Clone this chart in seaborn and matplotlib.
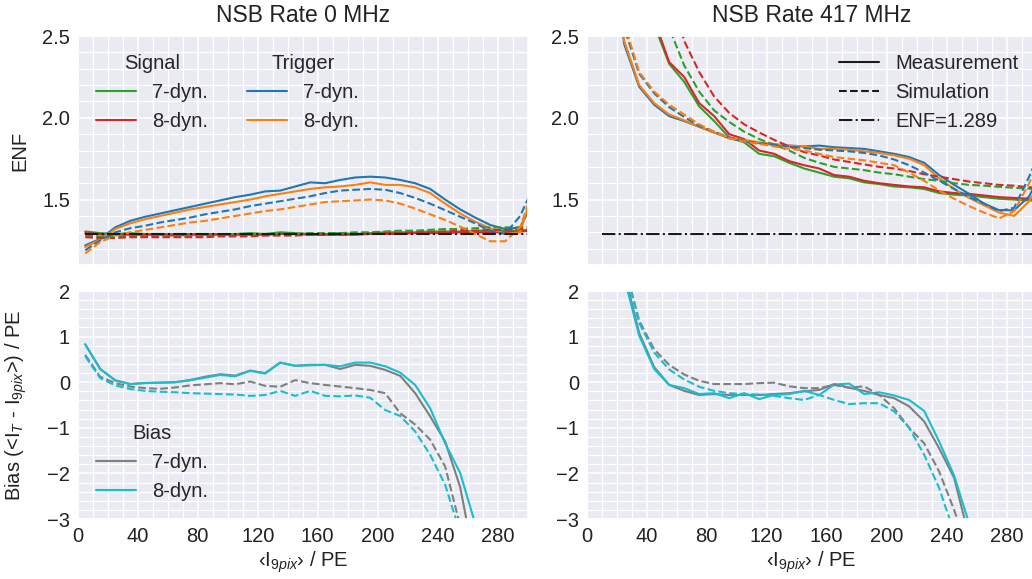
import numpy as np
import pandas as pd
import seaborn as sns
import matplotlib.pyplot as plt
from matplotlib.lines import Line2D
from matplotlib.ticker import MultipleLocator

sns.set_theme(style="darkgrid")
plt.rcParams["font.family"] = ["Liberation Sans", "DejaVu Sans"]
plt.rcParams["mathtext.fontset"] = "custom"
plt.rcParams["mathtext.rm"] = "Liberation Sans"
plt.rcParams["mathtext.it"] = "Liberation Sans:italic"
plt.rcParams["mathtext.bf"] = "Liberation Sans:bold"

# bin centres in PE
x_pe = list(range(5, 306, 10))

# ---- ENF, NSB 0 MHz ----
sig7_meas_0 = [1.305, 1.295, 1.29, 1.295, 1.29, 1.29, 1.29, 1.29, 1.29, 1.29, 1.29, 1.295, 1.29, 1.30, 1.295, 1.29,
               1.29, 1.295, 1.29, 1.295, 1.30, 1.30, 1.30, 1.305, 1.305, 1.305, 1.31, 1.31, 1.31, 1.31, 1.32]
sig8_meas_0 = [1.295, 1.29, 1.285, 1.285, 1.285, 1.285, 1.28, 1.285, 1.285, 1.285, 1.285, 1.285, 1.285, 1.29, 1.29,
               1.285, 1.285, 1.285, 1.285, 1.29, 1.29, 1.29, 1.295, 1.295, 1.295, 1.30, 1.30, 1.30, 1.30, 1.305, 1.31]
trg7_meas_0 = [1.22, 1.26, 1.33, 1.37, 1.395, 1.415, 1.435, 1.455, 1.475, 1.495, 1.515, 1.53, 1.55, 1.555, 1.58, 1.605,
               1.60, 1.62, 1.635, 1.64, 1.635, 1.62, 1.60, 1.565, 1.50, 1.44, 1.39, 1.345, 1.32, 1.33, 1.51]
trg8_meas_0 = [1.21, 1.255, 1.32, 1.355, 1.38, 1.40, 1.42, 1.44, 1.455, 1.47, 1.485, 1.50, 1.52, 1.535, 1.55, 1.565,
               1.575, 1.58, 1.59, 1.605, 1.59, 1.59, 1.575, 1.54, 1.475, 1.415, 1.365, 1.325, 1.29, 1.30, 1.60]
sig7_sim_0 = [1.28, 1.275, 1.275, 1.275, 1.275, 1.28, 1.28, 1.28, 1.28, 1.285, 1.285, 1.285, 1.29, 1.29, 1.29, 1.295,
              1.295, 1.295, 1.30, 1.30, 1.305, 1.31, 1.31, 1.315, 1.32, 1.32, 1.325, 1.33, 1.33, 1.33, 1.335]
sig8_sim_0 = [1.27, 1.265, 1.265, 1.27, 1.27, 1.27, 1.27, 1.27, 1.27, 1.275, 1.275, 1.275, 1.28, 1.28, 1.28, 1.285,
              1.285, 1.285, 1.29, 1.29, 1.295, 1.295, 1.30, 1.30, 1.305, 1.31, 1.31, 1.315, 1.315, 1.32, 1.32]
trg7_sim_0 = [1.19, 1.25, 1.30, 1.325, 1.34, 1.36, 1.375, 1.39, 1.41, 1.425, 1.44, 1.46, 1.475, 1.49, 1.505, 1.52,
              1.54, 1.555, 1.56, 1.565, 1.56, 1.54, 1.51, 1.475, 1.435, 1.395, 1.355, 1.31, 1.29, 1.40, 1.60]
trg8_sim_0 = [1.17, 1.24, 1.28, 1.30, 1.315, 1.33, 1.345, 1.36, 1.37, 1.385, 1.40, 1.415, 1.43, 1.44, 1.455, 1.47,
              1.485, 1.49, 1.495, 1.50, 1.495, 1.475, 1.445, 1.41, 1.375, 1.335, 1.29, 1.245, 1.245, 1.33, 1.60]

# ---- ENF, NSB 417 MHz ----
sig7_meas_417 = [5.0, 4.2, 3.6, 3.1, 2.57, 2.33, 2.22, 2.07, 1.98, 1.88, 1.85, 1.78, 1.765, 1.725, 1.69, 1.665,
                 1.64, 1.63, 1.605, 1.595, 1.58, 1.575, 1.565, 1.54, 1.53, 1.525, 1.515, 1.505, 1.50, 1.495, 1.49]
sig8_meas_417 = [5.0, 4.3, 3.7, 3.2, 2.6, 2.34, 2.25, 2.09, 2.01, 1.90, 1.87, 1.80, 1.78, 1.735, 1.71, 1.69,
                 1.65, 1.64, 1.615, 1.60, 1.59, 1.58, 1.575, 1.55, 1.54, 1.535, 1.525, 1.515, 1.51, 1.505, 1.50]
trg7_meas_417 = [4.5, 3.2, 2.45, 2.19, 2.08, 2.01, 1.98, 1.945, 1.91, 1.875, 1.855, 1.845, 1.835, 1.83, 1.825, 1.83,
                 1.82, 1.815, 1.81, 1.795, 1.78, 1.76, 1.725, 1.65, 1.59, 1.535, 1.475, 1.435, 1.435, 1.52, 1.70]
trg8_meas_417 = [4.5, 3.2, 2.47, 2.20, 2.09, 2.02, 1.985, 1.945, 1.91, 1.88, 1.865, 1.85, 1.84, 1.83, 1.825, 1.81,
                 1.81, 1.805, 1.795, 1.785, 1.77, 1.75, 1.71, 1.63, 1.565, 1.51, 1.465, 1.42, 1.40, 1.49, 1.65]
sig7_sim_417 = [5.5, 4.6, 3.9, 3.4, 2.9, 2.55, 2.32, 2.16, 2.045, 1.975, 1.915, 1.87, 1.835, 1.80, 1.755, 1.725,
                1.70, 1.69, 1.68, 1.665, 1.655, 1.64, 1.625, 1.615, 1.60, 1.59, 1.585, 1.578, 1.572, 1.567, 1.56]
sig8_sim_417 = [6.0, 5.0, 4.3, 3.8, 3.3, 2.8, 2.47, 2.28, 2.13, 2.03, 1.96, 1.91, 1.865, 1.825, 1.79, 1.77,
                1.745, 1.73, 1.715, 1.70, 1.69, 1.675, 1.655, 1.64, 1.625, 1.61, 1.60, 1.59, 1.585, 1.575, 1.57]
trg7_sim_417 = [4.5, 3.3, 2.55, 2.27, 2.15, 2.065, 2.005, 1.95, 1.915, 1.88, 1.86, 1.845, 1.835, 1.825, 1.815, 1.805,
                1.80, 1.795, 1.785, 1.77, 1.745, 1.71, 1.665, 1.615, 1.565, 1.515, 1.475, 1.43, 1.45, 1.64, 1.85]
trg8_sim_417 = [4.5, 3.3, 2.58, 2.28, 2.16, 2.08, 2.02, 1.96, 1.915, 1.875, 1.855, 1.84, 1.825, 1.81, 1.80, 1.78,
                1.76, 1.75, 1.74, 1.725, 1.71, 1.665, 1.615, 1.555, 1.505, 1.46, 1.42, 1.385, 1.43, 1.60, 1.80]

# ---- Bias, NSB 0 MHz ----
bias7_meas_0 = [0.83, 0.29, 0.04, -0.04, -0.015, -0.01, 0.0, 0.05, 0.12, 0.175, 0.145, 0.255, 0.20, 0.43, 0.36, 0.38,
                0.38, 0.29, 0.38, 0.36, 0.27, 0.14, -0.24, -0.75, -1.30, -2.3, -4.0, -5.5, -7.0, -8.5, -10.0]
bias8_meas_0 = [0.83, 0.29, 0.04, -0.04, -0.02, -0.01, 0.0, 0.04, 0.10, 0.16, 0.13, 0.25, 0.19, 0.43, 0.36, 0.37,
                0.38, 0.35, 0.43, 0.43, 0.35, 0.21, -0.06, -0.57, -1.34, -1.99, -3.1, -4.5, -6.0, -7.5, -9.0]
bias7_sim_0 = [0.60, 0.12, -0.02, -0.095, -0.13, -0.145, -0.115, -0.07, -0.045, -0.02, -0.045, 0.015, -0.08, -0.10,
               0.045, -0.02, -0.06, -0.095, -0.13, -0.17, -0.24, -0.68, -0.93, -1.26, -1.85, -3.15, -4.5, -6.0, -7.5,
               -9.0, -10.5]
bias8_sim_0 = [0.57, 0.09, -0.07, -0.15, -0.19, -0.21, -0.22, -0.24, -0.25, -0.26, -0.27, -0.30, -0.28, -0.19, -0.30,
               -0.19, -0.30, -0.31, -0.29, -0.34, -0.61, -0.74, -1.08, -1.59, -2.25, -3.3, -4.5, -6.0, -7.5, -9.0, -10.5]

# ---- Bias, NSB 417 MHz ----
bias7_meas_417 = [8.0, 5.0, 2.41, 1.08, 0.33, -0.06, -0.19, -0.28, -0.26, -0.28, -0.28, -0.28, -0.26, -0.24, -0.20,
                  -0.17, -0.04, -0.12, -0.19, -0.28, -0.35, -0.53, -0.86, -1.45, -2.1, -3.4, -5.0, -6.5, -8.0, -9.5, -11.0]
bias8_meas_417 = [8.0, 5.0, 2.3, 1.02, 0.29, -0.06, -0.13, -0.26, -0.24, -0.35, -0.24, -0.37, -0.28, -0.26, -0.19,
                  -0.28, -0.05, -0.03, -0.26, -0.22, -0.29, -0.39, -0.63, -1.3, -2.05, -3.1, -4.5, -6.0, -7.5, -9.0, -10.5]
bias7_sim_417 = [8.0, 5.0, 2.6, 1.35, 0.72, 0.38, 0.17, 0.03, -0.04, -0.04, -0.04, -0.02, -0.01, -0.09, -0.13, -0.13,
                 -0.06, -0.12, -0.09, -0.28, -0.57, -1.0, -1.34, -1.96, -2.8, -3.8, -5.0, -6.5, -8.0, -9.5, -11.0]
bias8_sim_417 = [8.0, 5.0, 2.55, 1.30, 0.65, 0.28, 0.06, -0.10, -0.19, -0.24, -0.26, -0.27, -0.30, -0.35, -0.39, -0.28,
                 -0.39, -0.48, -0.46, -0.46, -0.64, -1.0, -1.59, -2.32, -3.3, -4.5, -6.0, -7.5, -9.0, -10.5, -12.0]

enf_ref = 1.289
enf_x_0 = [5, 305]
enf_x_417 = [10, 305]

c_sig7, c_sig8 = "#2ca02c", "#d62728"
c_trg7, c_trg8 = "#1f77b4", "#ff7f0e"
c_b7, c_b8 = "#7f7f7f", "#17becf"
LW = 1.5
FS = 14.5

fig = plt.figure(figsize=(10.32, 5.79), dpi=100)
ax_tl = fig.add_axes([0.0753, 0.5423, 0.4360, 0.3955])
ax_tr = fig.add_axes([0.5685, 0.5423, 0.4360, 0.3955])
ax_bl = fig.add_axes([0.0753, 0.1036, 0.4360, 0.3938])
ax_br = fig.add_axes([0.5685, 0.1036, 0.4360, 0.3938])


def draw(ax, y, color, ls):
    sns.lineplot(x=x_pe, y=y, ax=ax, color=color, linestyle=ls, lw=LW,
                 errorbar=None, legend=False)


# ENF panels
for ax, data, ex in [
    (ax_tl, [sig7_meas_0, sig8_meas_0, trg7_meas_0, trg8_meas_0,
             sig7_sim_0, sig8_sim_0, trg7_sim_0, trg8_sim_0], enf_x_0),
    (ax_tr, [sig7_meas_417, sig8_meas_417, trg7_meas_417, trg8_meas_417,
             sig7_sim_417, sig8_sim_417, trg7_sim_417, trg8_sim_417], enf_x_417),
]:
    cols = [c_sig7, c_sig8, c_trg7, c_trg8] * 2
    styles = ["-"] * 4 + ["--"] * 4
    for y, c, ls in zip(data, cols, styles):
        draw(ax, y, c, ls)
    sns.lineplot(x=ex, y=[enf_ref, enf_ref], ax=ax, color="k", linestyle="-.",
                 lw=LW, errorbar=None, legend=False)
    ax.set_ylim(1.1, 2.5)
    ax.yaxis.set_major_locator(MultipleLocator(0.5))
    ax.yaxis.set_minor_locator(MultipleLocator(0.1))
    ax.yaxis.set_major_formatter(plt.FormatStrFormatter("%.1f"))

# Bias panels
for ax, data in [
    (ax_bl, [bias7_meas_0, bias8_meas_0, bias7_sim_0, bias8_sim_0]),
    (ax_br, [bias7_meas_417, bias8_meas_417, bias7_sim_417, bias8_sim_417]),
]:
    for y, c, ls in zip(data, [c_b7, c_b8, c_b7, c_b8], ["-", "-", "--", "--"]):
        draw(ax, y, c, ls)
    ax.set_ylim(-3, 2)
    ax.yaxis.set_major_locator(MultipleLocator(1))
    ax.yaxis.set_minor_locator(MultipleLocator(0.2))

for ax in [ax_tl, ax_tr, ax_bl, ax_br]:
    ax.set_xlim(0, 300)
    ax.xaxis.set_major_locator(MultipleLocator(40))
    ax.xaxis.set_minor_locator(MultipleLocator(10))
    ax.grid(which="major", color="white", lw=1.1)
    ax.grid(which="minor", color="white", lw=0.9)
    ax.tick_params(which="both", length=0, labelsize=FS, pad=5.5, labelcolor="#222222")
    ax.set_xlabel("")
    ax.set_ylabel("")

for ax in [ax_tl, ax_tr]:
    ax.tick_params(labelbottom=False)

ax_tl.set_title("NSB Rate 0 MHz", fontsize=16.5, pad=10, color="#222222")
ax_tr.set_title("NSB Rate 417 MHz", fontsize=16.5, pad=10, color="#222222")

ax_tl.set_ylabel("ENF", fontsize=FS, color="#222222")
ax_bl.set_ylabel(r"Bias (<I$_T$ - I$_{9pix}$>) / PE", fontsize=FS, color="#222222")
for ax in [ax_tl, ax_bl]:
    ax.yaxis.set_label_coords(-0.108, 0.5)

xlab = "\u2039I$_{9pix}$\u203a / PE"
ax_bl.set_xlabel(xlab, fontsize=FS, labelpad=3, color="#222222")
ax_br.set_xlabel(xlab, fontsize=FS, labelpad=3, color="#222222")

# legends
def h(c, ls="-"):
    return Line2D([], [], color=c, lw=LW, linestyle=ls)


leg_sig = ax_tl.legend([h(c_sig7), h(c_sig8)], ["7-dyn.", "8-dyn."], title="Signal",
                       loc="upper left", frameon=False, fontsize=FS, title_fontsize=FS)
ax_tl.add_artist(leg_sig)
ax_tl.legend([h(c_trg7), h(c_trg8)], ["7-dyn.", "8-dyn."], title="Trigger",
             loc="upper left", bbox_to_anchor=(0.336, 1.0), frameon=False,
             fontsize=FS, title_fontsize=FS)

ax_tr.legend([h("k"), h("k", "--"), h("k", "-.")],
             ["Measurement", "Simulation", "ENF=1.289"],
             loc="upper right", frameon=False, fontsize=FS)

ax_bl.legend([h(c_b7), h(c_b8)], ["7-dyn.", "8-dyn."], title="Bias",
             loc="lower left", frameon=False, fontsize=FS, title_fontsize=FS)

fig.savefig("out.png", dpi=100)
